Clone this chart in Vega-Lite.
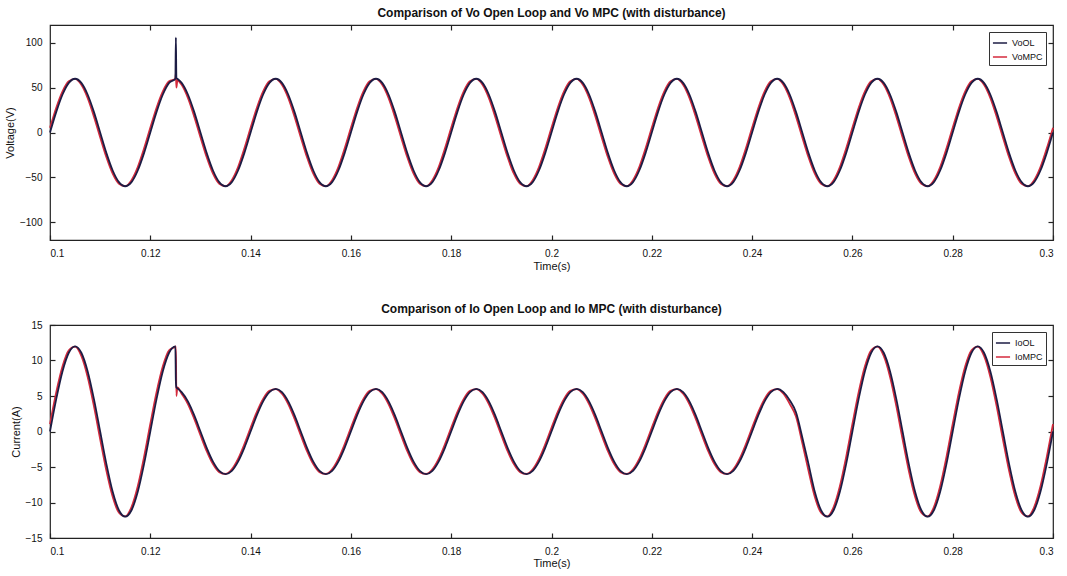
{
"$schema":"https://vega.github.io/schema/vega-lite/v6.json",
"padding":{"left":3,"top":6,"right":10,"bottom":2},
"background":"white",
"config":{"font":"Liberation Sans","view":{"stroke":"#222","strokeWidth":1.2},
"axis":{"domain":false,"grid":false,"tickColor":"#222","tickSize":-5,"tickWidth":1.2,"labelFontSize":10,"labelColor":"#111","labelPadding":13,"titleFontSize":11,"titleFontWeight":"normal","titleColor":"#111"},
"title":{"fontSize":12,"fontWeight":"bold","color":"#111","offset":4},
"legend":{"symbolType":"stroke","symbolStrokeWidth":1.5,"symbolSize":200,"labelFontSize":9,"labelColor":"#111","strokeColor":"#333","fillColor":"white","padding":3,"rowPadding":1,"offset":7,"title":null}},
"resolve":{"scale":{"color":"independent"},"legend":{"color":"independent"}},
"spacing":30,
"data":{"values":[
{"t":0.1,"VoOL":0,"VoMPC":5.2,"IoOL":0,"IoMPC":1.05},
{"t":0.10125,"VoOL":23,"VoMPC":27.7,"IoOL":4.59,"IoMPC":5.54},
{"t":0.1025,"VoOL":42.4,"VoMPC":46,"IoOL":8.49,"IoMPC":9.19},
{"t":0.10375,"VoOL":55.4,"VoMPC":57.2,"IoOL":11.09,"IoMPC":11.44},
{"t":0.105,"VoOL":60,"VoMPC":59.8,"IoOL":12,"IoMPC":11.95},
{"t":0.10625,"VoOL":55.4,"VoMPC":53.2,"IoOL":11.09,"IoMPC":10.64},
{"t":0.1075,"VoOL":42.4,"VoMPC":38.6,"IoOL":8.49,"IoMPC":7.71},
{"t":0.10875,"VoOL":23,"VoMPC":18,"IoOL":4.59,"IoMPC":3.61},
{"t":0.11,"VoOL":0,"VoMPC":-5.2,"IoOL":0,"IoMPC":-1.05},
{"t":0.11125,"VoOL":-23,"VoMPC":-27.7,"IoOL":-4.59,"IoMPC":-5.54},
{"t":0.1125,"VoOL":-42.4,"VoMPC":-46,"IoOL":-8.49,"IoMPC":-9.19},
{"t":0.11375,"VoOL":-55.4,"VoMPC":-57.2,"IoOL":-11.09,"IoMPC":-11.44},
{"t":0.115,"VoOL":-60,"VoMPC":-59.8,"IoOL":-12,"IoMPC":-11.95},
{"t":0.11625,"VoOL":-55.4,"VoMPC":-53.2,"IoOL":-11.09,"IoMPC":-10.64},
{"t":0.1175,"VoOL":-42.4,"VoMPC":-38.6,"IoOL":-8.49,"IoMPC":-7.71},
{"t":0.11875,"VoOL":-23,"VoMPC":-18,"IoOL":-4.59,"IoMPC":-3.61},
{"t":0.12,"VoOL":0,"VoMPC":5.2,"IoOL":0,"IoMPC":1.05},
{"t":0.12125,"VoOL":23,"VoMPC":27.7,"IoOL":4.59,"IoMPC":5.54},
{"t":0.1225,"VoOL":42.4,"VoMPC":46,"IoOL":8.49,"IoMPC":9.19},
{"t":0.12375,"VoOL":55.4,"VoMPC":57.2,"IoOL":11.09,"IoMPC":11.44},
{"t":0.125,"VoOL":60,"VoMPC":59.8,"IoOL":12,"IoMPC":11.95},
{"t":0.1251,"VoOL":106,"VoMPC":66,"IoOL":7,"IoMPC":12},
{"t":0.1252,"VoOL":61,"VoMPC":50,"IoOL":6.2,"IoMPC":5},
{"t":0.1254,"VoOL":60,"VoMPC":58,"IoOL":6.1,"IoMPC":6.2},
{"t":0.12625,"VoOL":55.4,"VoMPC":53.2,"IoOL":5.54,"IoMPC":5.32},
{"t":0.1275,"VoOL":42.4,"VoMPC":38.6,"IoOL":4.24,"IoMPC":3.86},
{"t":0.12875,"VoOL":23,"VoMPC":18,"IoOL":2.3,"IoMPC":1.8},
{"t":0.13,"VoOL":0,"VoMPC":-5.2,"IoOL":0,"IoMPC":-0.52},
{"t":0.13125,"VoOL":-23,"VoMPC":-27.7,"IoOL":-2.3,"IoMPC":-2.77},
{"t":0.1325,"VoOL":-42.4,"VoMPC":-46,"IoOL":-4.24,"IoMPC":-4.6},
{"t":0.13375,"VoOL":-55.4,"VoMPC":-57.2,"IoOL":-5.54,"IoMPC":-5.72},
{"t":0.135,"VoOL":-60,"VoMPC":-59.8,"IoOL":-6,"IoMPC":-5.98},
{"t":0.13625,"VoOL":-55.4,"VoMPC":-53.2,"IoOL":-5.54,"IoMPC":-5.32},
{"t":0.1375,"VoOL":-42.4,"VoMPC":-38.6,"IoOL":-4.24,"IoMPC":-3.86},
{"t":0.13875,"VoOL":-23,"VoMPC":-18,"IoOL":-2.3,"IoMPC":-1.8},
{"t":0.14,"VoOL":0,"VoMPC":5.2,"IoOL":0,"IoMPC":0.52},
{"t":0.14125,"VoOL":23,"VoMPC":27.7,"IoOL":2.3,"IoMPC":2.77},
{"t":0.1425,"VoOL":42.4,"VoMPC":46,"IoOL":4.24,"IoMPC":4.6},
{"t":0.14375,"VoOL":55.4,"VoMPC":57.2,"IoOL":5.54,"IoMPC":5.72},
{"t":0.145,"VoOL":60,"VoMPC":59.8,"IoOL":6,"IoMPC":5.98},
{"t":0.14625,"VoOL":55.4,"VoMPC":53.2,"IoOL":5.54,"IoMPC":5.32},
{"t":0.1475,"VoOL":42.4,"VoMPC":38.6,"IoOL":4.24,"IoMPC":3.86},
{"t":0.14875,"VoOL":23,"VoMPC":18,"IoOL":2.3,"IoMPC":1.8},
{"t":0.15,"VoOL":0,"VoMPC":-5.2,"IoOL":0,"IoMPC":-0.52},
{"t":0.15125,"VoOL":-23,"VoMPC":-27.7,"IoOL":-2.3,"IoMPC":-2.77},
{"t":0.1525,"VoOL":-42.4,"VoMPC":-46,"IoOL":-4.24,"IoMPC":-4.6},
{"t":0.15375,"VoOL":-55.4,"VoMPC":-57.2,"IoOL":-5.54,"IoMPC":-5.72},
{"t":0.155,"VoOL":-60,"VoMPC":-59.8,"IoOL":-6,"IoMPC":-5.98},
{"t":0.15625,"VoOL":-55.4,"VoMPC":-53.2,"IoOL":-5.54,"IoMPC":-5.32},
{"t":0.1575,"VoOL":-42.4,"VoMPC":-38.6,"IoOL":-4.24,"IoMPC":-3.86},
{"t":0.15875,"VoOL":-23,"VoMPC":-18,"IoOL":-2.3,"IoMPC":-1.8},
{"t":0.16,"VoOL":0,"VoMPC":5.2,"IoOL":0,"IoMPC":0.52},
{"t":0.16125,"VoOL":23,"VoMPC":27.7,"IoOL":2.3,"IoMPC":2.77},
{"t":0.1625,"VoOL":42.4,"VoMPC":46,"IoOL":4.24,"IoMPC":4.6},
{"t":0.16375,"VoOL":55.4,"VoMPC":57.2,"IoOL":5.54,"IoMPC":5.72},
{"t":0.165,"VoOL":60,"VoMPC":59.8,"IoOL":6,"IoMPC":5.98},
{"t":0.16625,"VoOL":55.4,"VoMPC":53.2,"IoOL":5.54,"IoMPC":5.32},
{"t":0.1675,"VoOL":42.4,"VoMPC":38.6,"IoOL":4.24,"IoMPC":3.86},
{"t":0.16875,"VoOL":23,"VoMPC":18,"IoOL":2.3,"IoMPC":1.8},
{"t":0.17,"VoOL":0,"VoMPC":-5.2,"IoOL":0,"IoMPC":-0.52},
{"t":0.17125,"VoOL":-23,"VoMPC":-27.7,"IoOL":-2.3,"IoMPC":-2.77},
{"t":0.1725,"VoOL":-42.4,"VoMPC":-46,"IoOL":-4.24,"IoMPC":-4.6},
{"t":0.17375,"VoOL":-55.4,"VoMPC":-57.2,"IoOL":-5.54,"IoMPC":-5.72},
{"t":0.175,"VoOL":-60,"VoMPC":-59.8,"IoOL":-6,"IoMPC":-5.98},
{"t":0.17625,"VoOL":-55.4,"VoMPC":-53.2,"IoOL":-5.54,"IoMPC":-5.32},
{"t":0.1775,"VoOL":-42.4,"VoMPC":-38.6,"IoOL":-4.24,"IoMPC":-3.86},
{"t":0.17875,"VoOL":-23,"VoMPC":-18,"IoOL":-2.3,"IoMPC":-1.8},
{"t":0.18,"VoOL":0,"VoMPC":5.2,"IoOL":0,"IoMPC":0.52},
{"t":0.18125,"VoOL":23,"VoMPC":27.7,"IoOL":2.3,"IoMPC":2.77},
{"t":0.1825,"VoOL":42.4,"VoMPC":46,"IoOL":4.24,"IoMPC":4.6},
{"t":0.18375,"VoOL":55.4,"VoMPC":57.2,"IoOL":5.54,"IoMPC":5.72},
{"t":0.185,"VoOL":60,"VoMPC":59.8,"IoOL":6,"IoMPC":5.98},
{"t":0.18625,"VoOL":55.4,"VoMPC":53.2,"IoOL":5.54,"IoMPC":5.32},
{"t":0.1875,"VoOL":42.4,"VoMPC":38.6,"IoOL":4.24,"IoMPC":3.86},
{"t":0.18875,"VoOL":23,"VoMPC":18,"IoOL":2.3,"IoMPC":1.8},
{"t":0.19,"VoOL":0,"VoMPC":-5.2,"IoOL":0,"IoMPC":-0.52},
{"t":0.19125,"VoOL":-23,"VoMPC":-27.7,"IoOL":-2.3,"IoMPC":-2.77},
{"t":0.1925,"VoOL":-42.4,"VoMPC":-46,"IoOL":-4.24,"IoMPC":-4.6},
{"t":0.19375,"VoOL":-55.4,"VoMPC":-57.2,"IoOL":-5.54,"IoMPC":-5.72},
{"t":0.195,"VoOL":-60,"VoMPC":-59.8,"IoOL":-6,"IoMPC":-5.98},
{"t":0.19625,"VoOL":-55.4,"VoMPC":-53.2,"IoOL":-5.54,"IoMPC":-5.32},
{"t":0.1975,"VoOL":-42.4,"VoMPC":-38.6,"IoOL":-4.24,"IoMPC":-3.86},
{"t":0.19875,"VoOL":-23,"VoMPC":-18,"IoOL":-2.3,"IoMPC":-1.8},
{"t":0.2,"VoOL":0,"VoMPC":5.2,"IoOL":0,"IoMPC":0.52},
{"t":0.20125,"VoOL":23,"VoMPC":27.7,"IoOL":2.3,"IoMPC":2.77},
{"t":0.2025,"VoOL":42.4,"VoMPC":46,"IoOL":4.24,"IoMPC":4.6},
{"t":0.20375,"VoOL":55.4,"VoMPC":57.2,"IoOL":5.54,"IoMPC":5.72},
{"t":0.205,"VoOL":60,"VoMPC":59.8,"IoOL":6,"IoMPC":5.98},
{"t":0.20625,"VoOL":55.4,"VoMPC":53.2,"IoOL":5.54,"IoMPC":5.32},
{"t":0.2075,"VoOL":42.4,"VoMPC":38.6,"IoOL":4.24,"IoMPC":3.86},
{"t":0.20875,"VoOL":23,"VoMPC":18,"IoOL":2.3,"IoMPC":1.8},
{"t":0.21,"VoOL":0,"VoMPC":-5.2,"IoOL":0,"IoMPC":-0.52},
{"t":0.21125,"VoOL":-23,"VoMPC":-27.7,"IoOL":-2.3,"IoMPC":-2.77},
{"t":0.2125,"VoOL":-42.4,"VoMPC":-46,"IoOL":-4.24,"IoMPC":-4.6},
{"t":0.21375,"VoOL":-55.4,"VoMPC":-57.2,"IoOL":-5.54,"IoMPC":-5.72},
{"t":0.215,"VoOL":-60,"VoMPC":-59.8,"IoOL":-6,"IoMPC":-5.98},
{"t":0.21625,"VoOL":-55.4,"VoMPC":-53.2,"IoOL":-5.54,"IoMPC":-5.32},
{"t":0.2175,"VoOL":-42.4,"VoMPC":-38.6,"IoOL":-4.24,"IoMPC":-3.86},
{"t":0.21875,"VoOL":-23,"VoMPC":-18,"IoOL":-2.3,"IoMPC":-1.8},
{"t":0.22,"VoOL":0,"VoMPC":5.2,"IoOL":0,"IoMPC":0.52},
{"t":0.22125,"VoOL":23,"VoMPC":27.7,"IoOL":2.3,"IoMPC":2.77},
{"t":0.2225,"VoOL":42.4,"VoMPC":46,"IoOL":4.24,"IoMPC":4.6},
{"t":0.22375,"VoOL":55.4,"VoMPC":57.2,"IoOL":5.54,"IoMPC":5.72},
{"t":0.225,"VoOL":60,"VoMPC":59.8,"IoOL":6,"IoMPC":5.98},
{"t":0.22625,"VoOL":55.4,"VoMPC":53.2,"IoOL":5.54,"IoMPC":5.32},
{"t":0.2275,"VoOL":42.4,"VoMPC":38.6,"IoOL":4.24,"IoMPC":3.86},
{"t":0.22875,"VoOL":23,"VoMPC":18,"IoOL":2.3,"IoMPC":1.8},
{"t":0.23,"VoOL":0,"VoMPC":-5.2,"IoOL":0,"IoMPC":-0.52},
{"t":0.23125,"VoOL":-23,"VoMPC":-27.7,"IoOL":-2.3,"IoMPC":-2.77},
{"t":0.2325,"VoOL":-42.4,"VoMPC":-46,"IoOL":-4.24,"IoMPC":-4.6},
{"t":0.23375,"VoOL":-55.4,"VoMPC":-57.2,"IoOL":-5.54,"IoMPC":-5.72},
{"t":0.235,"VoOL":-60,"VoMPC":-59.8,"IoOL":-6,"IoMPC":-5.98},
{"t":0.23625,"VoOL":-55.4,"VoMPC":-53.2,"IoOL":-5.54,"IoMPC":-5.32},
{"t":0.2375,"VoOL":-42.4,"VoMPC":-38.6,"IoOL":-4.24,"IoMPC":-3.86},
{"t":0.23875,"VoOL":-23,"VoMPC":-18,"IoOL":-2.3,"IoMPC":-1.8},
{"t":0.24,"VoOL":0,"VoMPC":5.2,"IoOL":0,"IoMPC":0.52},
{"t":0.24125,"VoOL":23,"VoMPC":27.7,"IoOL":2.3,"IoMPC":2.77},
{"t":0.2425,"VoOL":42.4,"VoMPC":46,"IoOL":4.24,"IoMPC":4.6},
{"t":0.24375,"VoOL":55.4,"VoMPC":57.2,"IoOL":5.54,"IoMPC":5.72},
{"t":0.245,"VoOL":60,"VoMPC":59.8,"IoOL":6,"IoMPC":5.98},
{"t":0.24625,"VoOL":55.4,"VoMPC":53.2,"IoOL":5.54,"IoMPC":5.32},
{"t":0.2475,"VoOL":42.4,"VoMPC":38.6,"IoOL":4.4,"IoMPC":3.9},
{"t":0.24875,"VoOL":23,"VoMPC":18,"IoOL":2.7,"IoMPC":2.1},
{"t":0.25,"VoOL":0,"VoMPC":-5.2,"IoOL":-0.8,"IoMPC":-1.6},
{"t":0.25125,"VoOL":-23,"VoMPC":-27.7,"IoOL":-4.59,"IoMPC":-5.54},
{"t":0.2525,"VoOL":-42.4,"VoMPC":-46,"IoOL":-8.49,"IoMPC":-9.19},
{"t":0.25375,"VoOL":-55.4,"VoMPC":-57.2,"IoOL":-11.09,"IoMPC":-11.44},
{"t":0.255,"VoOL":-60,"VoMPC":-59.8,"IoOL":-12,"IoMPC":-11.95},
{"t":0.25625,"VoOL":-55.4,"VoMPC":-53.2,"IoOL":-11.09,"IoMPC":-10.64},
{"t":0.2575,"VoOL":-42.4,"VoMPC":-38.6,"IoOL":-8.49,"IoMPC":-7.71},
{"t":0.25875,"VoOL":-23,"VoMPC":-18,"IoOL":-4.59,"IoMPC":-3.61},
{"t":0.26,"VoOL":0,"VoMPC":5.2,"IoOL":0,"IoMPC":1.05},
{"t":0.26125,"VoOL":23,"VoMPC":27.7,"IoOL":4.59,"IoMPC":5.54},
{"t":0.2625,"VoOL":42.4,"VoMPC":46,"IoOL":8.49,"IoMPC":9.19},
{"t":0.26375,"VoOL":55.4,"VoMPC":57.2,"IoOL":11.09,"IoMPC":11.44},
{"t":0.265,"VoOL":60,"VoMPC":59.8,"IoOL":12,"IoMPC":11.95},
{"t":0.26625,"VoOL":55.4,"VoMPC":53.2,"IoOL":11.09,"IoMPC":10.64},
{"t":0.2675,"VoOL":42.4,"VoMPC":38.6,"IoOL":8.49,"IoMPC":7.71},
{"t":0.26875,"VoOL":23,"VoMPC":18,"IoOL":4.59,"IoMPC":3.61},
{"t":0.27,"VoOL":0,"VoMPC":-5.2,"IoOL":0,"IoMPC":-1.05},
{"t":0.27125,"VoOL":-23,"VoMPC":-27.7,"IoOL":-4.59,"IoMPC":-5.54},
{"t":0.2725,"VoOL":-42.4,"VoMPC":-46,"IoOL":-8.49,"IoMPC":-9.19},
{"t":0.27375,"VoOL":-55.4,"VoMPC":-57.2,"IoOL":-11.09,"IoMPC":-11.44},
{"t":0.275,"VoOL":-60,"VoMPC":-59.8,"IoOL":-12,"IoMPC":-11.95},
{"t":0.27625,"VoOL":-55.4,"VoMPC":-53.2,"IoOL":-11.09,"IoMPC":-10.64},
{"t":0.2775,"VoOL":-42.4,"VoMPC":-38.6,"IoOL":-8.49,"IoMPC":-7.71},
{"t":0.27875,"VoOL":-23,"VoMPC":-18,"IoOL":-4.59,"IoMPC":-3.61},
{"t":0.28,"VoOL":0,"VoMPC":5.2,"IoOL":0,"IoMPC":1.05},
{"t":0.28125,"VoOL":23,"VoMPC":27.7,"IoOL":4.59,"IoMPC":5.54},
{"t":0.2825,"VoOL":42.4,"VoMPC":46,"IoOL":8.49,"IoMPC":9.19},
{"t":0.28375,"VoOL":55.4,"VoMPC":57.2,"IoOL":11.09,"IoMPC":11.44},
{"t":0.285,"VoOL":60,"VoMPC":59.8,"IoOL":12,"IoMPC":11.95},
{"t":0.28625,"VoOL":55.4,"VoMPC":53.2,"IoOL":11.09,"IoMPC":10.64},
{"t":0.2875,"VoOL":42.4,"VoMPC":38.6,"IoOL":8.49,"IoMPC":7.71},
{"t":0.28875,"VoOL":23,"VoMPC":18,"IoOL":4.59,"IoMPC":3.61},
{"t":0.29,"VoOL":0,"VoMPC":-5.2,"IoOL":0,"IoMPC":-1.05},
{"t":0.29125,"VoOL":-23,"VoMPC":-27.7,"IoOL":-4.59,"IoMPC":-5.54},
{"t":0.2925,"VoOL":-42.4,"VoMPC":-46,"IoOL":-8.49,"IoMPC":-9.19},
{"t":0.29375,"VoOL":-55.4,"VoMPC":-57.2,"IoOL":-11.09,"IoMPC":-11.44},
{"t":0.295,"VoOL":-60,"VoMPC":-59.8,"IoOL":-12,"IoMPC":-11.95},
{"t":0.29625,"VoOL":-55.4,"VoMPC":-53.2,"IoOL":-11.09,"IoMPC":-10.64},
{"t":0.2975,"VoOL":-42.4,"VoMPC":-38.6,"IoOL":-8.49,"IoMPC":-7.71},
{"t":0.29875,"VoOL":-23,"VoMPC":-18,"IoOL":-4.59,"IoMPC":-3.61},
{"t":0.3,"VoOL":0,"VoMPC":5.2,"IoOL":0,"IoMPC":1.05}
]},
"vconcat":[
{"width":1003,"height":215,
"title":{"text":"Comparison of Vo Open Loop and Vo MPC (with disturbance)"},
"layer":[
{"mark":{"type":"line","strokeWidth":1.8,"interpolate":"monotone"},
"encoding":{
"x":{"field":"t","type":"quantitative","scale":{"domain":[0.1,0.3],"nice":false,"zero":false},"axis":{"values":[0.1,0.12,0.14,0.16,0.18,0.2,0.22,0.24,0.26,0.28,0.3],"format":"~g","title":"Time(s)","titlePadding":2}},
"y":{"field":"VoMPC","type":"quantitative","scale":{"domain":[-120,120],"nice":false},"axis":{"values":[-100,-50,0,50,100],"title":"Voltage(V)","titlePadding":4}},
"color":{"datum":"VoMPC","type":"nominal","scale":{"domain":["VoOL","VoMPC"],"range":["#1c1c44","#d42a3c"]},"legend":{"orient":"top-right"}}}},
{"mark":{"type":"line","strokeWidth":1.8,"interpolate":"monotone"},
"encoding":{
"x":{"field":"t","type":"quantitative","axis":null},
"y":{"field":"VoOL","type":"quantitative","axis":null},
"color":{"datum":"VoOL","type":"nominal"}}},
{"mark":{"type":"line","opacity":0},
"encoding":{
"x":{"field":"t","type":"quantitative","axis":{"orient":"top","values":[0.12,0.14,0.16,0.18,0.2,0.22,0.24,0.26,0.28],"labels":false,"title":null}},
"y":{"field":"VoOL","type":"quantitative","axis":{"orient":"right","values":[-100,-50,0,50,100],"labels":false,"title":null}}}}
],
"resolve":{"axis":{"x":"independent","y":"independent"}}},
{"width":1003,"height":213,
"title":{"text":"Comparison of Io Open Loop and Io MPC (with disturbance)"},
"layer":[
{"mark":{"type":"line","strokeWidth":1.8,"interpolate":"monotone"},
"encoding":{
"x":{"field":"t","type":"quantitative","scale":{"domain":[0.1,0.3],"nice":false,"zero":false},"axis":{"values":[0.1,0.12,0.14,0.16,0.18,0.2,0.22,0.24,0.26,0.28,0.3],"format":"~g","title":"Time(s)","titlePadding":1}},
"y":{"field":"IoMPC","type":"quantitative","scale":{"domain":[-15,15],"nice":false},"axis":{"values":[-15,-10,-5,0,5,10,15],"title":"Current(A)","titlePadding":4}},
"color":{"datum":"IoMPC","type":"nominal","scale":{"domain":["IoOL","IoMPC"],"range":["#1c1c44","#d42a3c"]},"legend":{"orient":"top-right"}}}},
{"mark":{"type":"line","strokeWidth":1.8,"interpolate":"monotone"},
"encoding":{
"x":{"field":"t","type":"quantitative","axis":null},
"y":{"field":"IoOL","type":"quantitative","axis":null},
"color":{"datum":"IoOL","type":"nominal"}}},
{"mark":{"type":"line","opacity":0},
"encoding":{
"x":{"field":"t","type":"quantitative","axis":{"orient":"top","values":[0.12,0.14,0.16,0.18,0.2,0.22,0.24,0.26,0.28],"labels":false,"title":null}},
"y":{"field":"IoOL","type":"quantitative","axis":{"orient":"right","values":[-10,-5,0,5,10],"labels":false,"title":null}}}}
],
"resolve":{"axis":{"x":"independent","y":"independent"}}}
]
}
